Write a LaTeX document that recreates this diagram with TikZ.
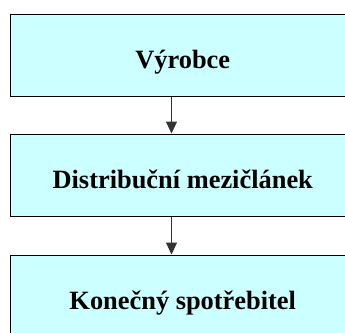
\documentclass[tikz,border=0pt]{standalone}
\usepackage{fontspec}
\setmainfont{Liberation Serif}
\usetikzlibrary{arrows.meta}
\definecolor{boxfill}{RGB}{204,255,255}
\newcommand{\stagetext}[1]{\makebox[345.5pt]{#1}\kern30pt\relax}
\begin{document}
\begin{tikzpicture}[x=1pt,y=1pt,
  stage/.style={draw=black, line width=1pt, fill=boxfill, rectangle,
    minimum height=82pt, minimum width=375.5pt, inner sep=0pt,
    font=\fontsize{26.4}{30}\selectfont\bfseries, text height=26pt, text depth=0pt},
  flow/.style={draw=black!80, line width=1pt, -{Triangle[width=11pt,length=12pt]}}]
\useasboundingbox (0,0) rectangle (345,-332);
\clip (0,0) rectangle (345,-332);
\fill[white] (0,0) rectangle (345,-332);
\node[stage, anchor=west] (b1) at (9.5,-55) {\stagetext{Výrobce}};
\node[stage, anchor=west] (b2) at (9.5,-175) {\stagetext{Distribuční mezičlánek}};
\node[stage, anchor=west] (b3) at (9.5,-296) {\stagetext{Konečný spotřebitel}};
\draw[flow] ([xshift=-26.25pt]b1.south) -- ([xshift=-26.25pt]b2.north);
\draw[flow] ([xshift=-26.25pt]b2.south) -- ([xshift=-26.25pt]b3.north);
\end{tikzpicture}
\end{document}
